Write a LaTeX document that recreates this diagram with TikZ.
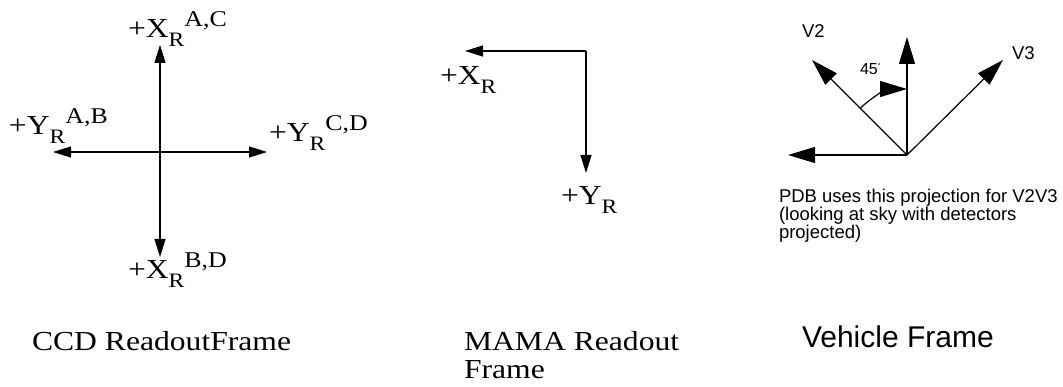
\documentclass[tikz,border=0pt]{standalone}
\usepackage{fontspec}
\setmainfont[FakeStretch=1.15]{Liberation Serif}
\newfontfamily\helv{Liberation Sans}
\usetikzlibrary{arrows.meta}
\newcommand{\axlab}[3]{{\fontsize{27.5}{27.5}\selectfont +#1}\raisebox{-8.5pt}{\fontsize{20.5}{20.5}\selectfont #2}\raisebox{11.5pt}{\fontsize{22.5}{22.5}\selectfont #3}}
\tikzset{
  ccdarrow/.style={line width=1.3pt,-{Triangle[length=18pt,width=11pt]}},
  vecarrow/.style={line width=1.2pt,-{Triangle[length=27pt,width=16pt]}},
  lab/.style={anchor=base west,inner sep=0pt,outer sep=0pt},
  serifbig/.style={font=\fontsize{27.5}{28}\selectfont},
}
\begin{document}
\begin{tikzpicture}[x=1pt,y=-1pt]
\useasboundingbox (0,0) rectangle (1063,387);
% CCD frame
\coordinate (cc) at (160,152);
\coordinate (ccN) at (160,45);
\coordinate (ccS) at (160,257);
\coordinate (ccW) at (53,152);
\coordinate (ccE) at (267,152);
\draw[ccdarrow] (cc) -- (ccN);
\draw[ccdarrow] (cc) -- (ccS);
\draw[ccdarrow] (cc) -- (ccW);
\draw[ccdarrow] (cc) -- (ccE);
\node[lab] (lxac) at (128,38) {\axlab{X}{R}{A,C}};
\node[lab] (lyab) at (9,135) {\axlab{Y}{R}{A,B}};
\node[lab] (lycd) at (269,142) {\axlab{Y}{R}{C,D}};
\node[lab] (lxbd) at (128,279) {\axlab{X}{R}{B,D}};
\node[lab,serifbig] (tccd) at (32,351) {CCD ReadoutFrame};
% MAMA frame
\coordinate (mc) at (586,51);
\coordinate (mW) at (465,51);
\coordinate (mS) at (586,173);
\draw[ccdarrow] (mc) -- (mW);
\draw[ccdarrow] (mc) -- (mS);
\node[lab] (mx) at (440,85) {\axlab{X}{R}{}};
\node[lab] (my) at (561,205) {\axlab{Y}{R}{}};
\node[lab,align=left,serifbig] (tmama) at (464,378) {MAMA Readout\\Frame};
% Vehicle frame
\coordinate (vo) at (907,155);
\coordinate (vN) at (907,37);
\coordinate (vW) at (788,155);
\coordinate (v2) at (812,60);
\coordinate (v3) at (1003,60);
\coordinate (va) at (860.3,108.3);
\coordinate (vb) at (907,89);
\draw[vecarrow] (vo) -- (vN);
\draw[vecarrow] (vo) -- (vW);
\draw[vecarrow] (vo) -- (v2);
\draw[vecarrow] (vo) -- (v3);
\draw[vecarrow] (va) .. controls (872.7,95.9) and (889.5,89) .. (vb);
\node[lab,font=\helv\fontsize{18.5}{18.5}\selectfont] (tv2) at (802,38) {V2};
\node[lab,font=\helv\fontsize{18.5}{18.5}\selectfont] (tv3) at (1012,60) {V3};
\node[lab,font=\helv\fontsize{16}{16}\selectfont] (t45) at (860,75) {45\raisebox{6pt}{\fontsize{7}{7}\selectfont °}};
\node[lab,align=left,font=\helv\fontsize{18.5}{15.5}\selectfont] (tpdb) at (779,239) {PDB uses this projection for V2V3\\(looking at sky with detectors\\projected)};
\node[lab,font=\helv\fontsize{30}{30}\selectfont] (tveh) at (802,348) {Vehicle Frame};
\end{tikzpicture}
\end{document}
